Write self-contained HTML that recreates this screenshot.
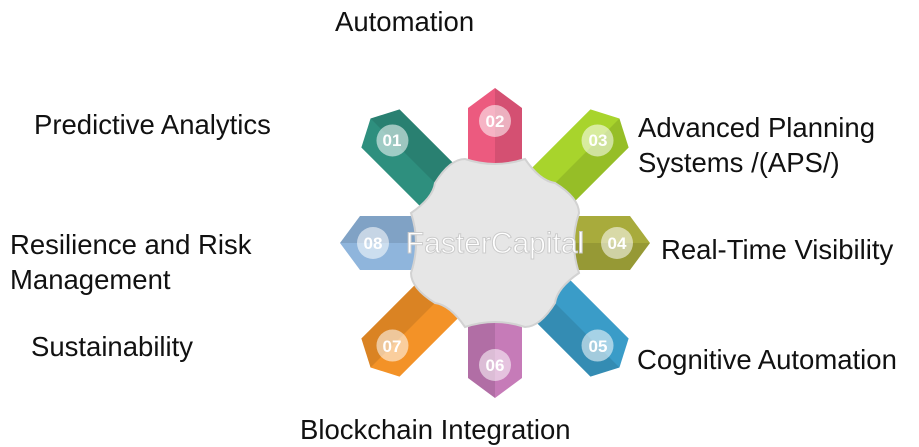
<!DOCTYPE html>
<html><head><style>
body{margin:0;width:919px;height:444px;background:#fff;overflow:hidden;position:relative;font-family:"Liberation Sans",sans-serif;}
.t{position:absolute;font-size:27.5px;color:#111;line-height:35px;white-space:nowrap}
</style></head><body>
<svg width="919" height="444" style="position:absolute;left:0;top:0">
<defs>
<g id="arm"><polygon points="-27,-40 27,-40 27,-135 0,-155 -27,-135"/><polygon points="0,-40 27,-40 27,-135 0,-155" fill="#000" opacity=".1"/><circle cy="-122" r="16" fill="#fff" opacity=".55"/></g>
<g id="darm"><polygon points="-27,-40 27,-40 27,-162 0,-176 -27,-162"/><polygon points="0,-40 27,-40 27,-162 0,-176" fill="#000" opacity=".1"/><circle cy="-145" r="16" fill="#fff" opacity=".55"/></g>
</defs>
<g transform="translate(495,243)">
<g fill="#2e8f7e" transform="rotate(-45)"><use href="#darm"/></g>
<g fill="#ec5a7f"><use href="#arm"/></g>
<g fill="#a8d42c" transform="rotate(45)"><use href="#darm"/></g>
<g fill="#a8ab3c" transform="rotate(90)"><use href="#arm"/></g>
<g fill="#3a9cc8" transform="rotate(135)"><use href="#darm"/></g>
<g fill="#c67bb8" transform="rotate(180)"><use href="#arm"/></g>
<g fill="#f39227" transform="rotate(225)"><use href="#darm"/></g>
<g fill="#8fb5dc" transform="rotate(270)"><use href="#arm"/></g>
<path d="M-30,-84 Q0,-74 30,-84 Q45,-62 60,-60 Q84,-45 84,-30 Q74,0 84,30 Q62,45 60,60 Q45,84 30,84 Q0,74 -30,84 Q-45,62 -60,60 Q-84,45 -84,30 Q-74,0 -84,-30 Q-62,-45 -60,-60 Q-45,-84 -30,-84Z" fill="#e6e6e6" stroke="#d2d2d2" stroke-width="2"/>
<text x="0" y="10" text-anchor="middle" font-family="Liberation Sans" font-size="30" fill="#fff" stroke="#ccc" stroke-width="1">FasterCapital</text>
<g font-family="Liberation Sans" font-size="17" font-weight="bold" fill="#fff" text-anchor="middle">
<text x="-103" y="-97">01</text><text x="0" y="-116">02</text><text x="103" y="-97">03</text><text x="122" y="6">04</text>
<text x="103" y="109">05</text><text x="0" y="128">06</text><text x="-103" y="109">07</text><text x="-122" y="6">08</text></g>
</g>
</svg>
<div class="t" style="left:335px;top:4px">Automation</div>
<div class="t" style="left:34px;top:107px">Predictive Analytics</div>
<div class="t" style="left:638px;top:110px">Advanced Planning<br>Systems /(APS/)</div>
<div class="t" style="left:10px;top:227px">Resilience and Risk<br>Management</div>
<div class="t" style="left:661px;top:232px">Real-Time Visibility</div>
<div class="t" style="left:31px;top:329px">Sustainability</div>
<div class="t" style="left:637px;top:342px">Cognitive Automation</div>
<div class="t" style="left:300px;top:412px">Blockchain Integration</div>
</body></html>
